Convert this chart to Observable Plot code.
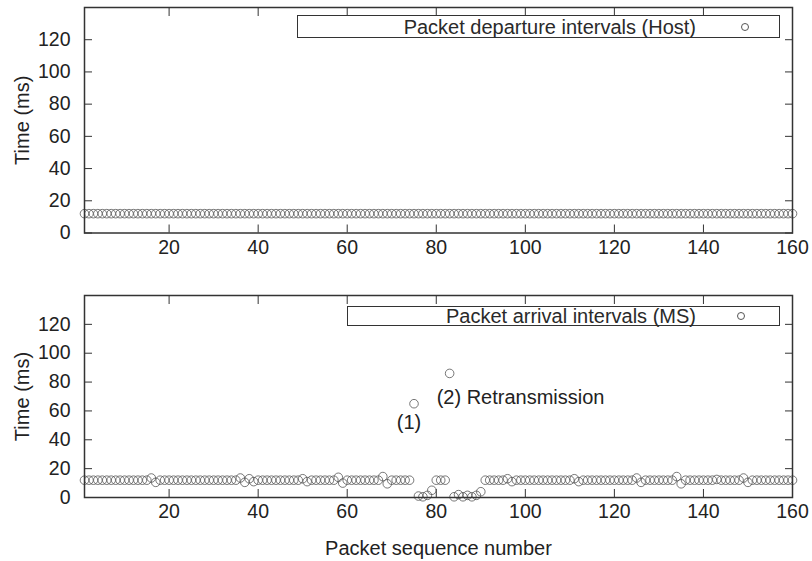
<!DOCTYPE html>
<html><head><meta charset="utf-8">
<script src="https://cdn.jsdelivr.net/npm/d3@7"></script>
<script src="https://cdn.jsdelivr.net/npm/@observablehq/plot@0.6"></script>
<style>
body{margin:0;background:#fff;font-family:"Liberation Sans",Arial,sans-serif;}
#wrap{position:relative;width:812px;height:561px;overflow:hidden;}
#wrap svg{display:block;}
.legend{position:absolute;border:1px solid #333;box-sizing:border-box;font-size:20px;color:#2a2a2a;background:#fff;}
.legend span{position:absolute;white-space:nowrap;}
.legend i{position:absolute;width:8px;height:8px;border:1px solid #555;border-radius:50%;box-sizing:border-box;}
</style></head><body><div id="wrap"></div>
<script>
// ---- data ----
const seqNumbers = [1,2,3,4,5,6,7,8,9,10,11,12,13,14,15,16,17,18,19,20,21,22,23,24,25,26,27,28,29,30,31,32,33,34,35,36,37,38,39,40,41,42,43,44,45,46,47,48,49,50,51,52,53,54,55,56,57,58,59,60,61,62,63,64,65,66,67,68,69,70,71,72,73,74,75,76,77,78,79,80,81,82,83,84,85,86,87,88,89,90,91,92,93,94,95,96,97,98,99,100,101,102,103,104,105,106,107,108,109,110,111,112,113,114,115,116,117,118,119,120,121,122,123,124,125,126,127,128,129,130,131,132,133,134,135,136,137,138,139,140,141,142,143,144,145,146,147,148,149,150,151,152,153,154,155,156,157,158,159,160];
const departureIntervals = [
12,12,12,12,12,12,12,12,12,12,12,12,12,12,12,12,12,12,12,12,
12,12,12,12,12,12,12,12,12,12,12,12,12,12,12,12,12,12,12,12,
12,12,12,12,12,12,12,12,12,12,12,12,12,12,12,12,12,12,12,12,
12,12,12,12,12,12,12,12,12,12,12,12,12,12,12,12,12,12,12,12,
12,12,12,12,12,12,12,12,12,12,12,12,12,12,12,12,12,12,12,12,
12,12,12,12,12,12,12,12,12,12,12,12,12,12,12,12,12,12,12,12,
12,12,12,12,12,12,12,12,12,12,12,12,12,12,12,12,12,12,12,12,
12,12,12,12,12,12,12,12,12,12,12,12,12,12,12,12,12,12,12,12];
const arrivalIntervals = [
12,12,12,12,12,12,12,12,12,12,12,12,12,12,12,13.5,10.5,12,12,12,
12,12,12,12,12,12,12,12,12,12,12,12,12,12,12,13.5,10.5,13,11,12,
12,12,12,12,12,12,12,12,12,13,11,12,12,12,12,12,12,14,10,12,
12,12,12,12,12,12,12,14.5,9.5,12,12,12,12,12,65,1,0.5,1.5,5,12,
12,12,86,0.5,2,0.5,1.5,0.5,1.5,4,12,12,12,12,12,13,11,12,12,12,
12,12,12,12,12,12,12,12,12,12,13,11,12,12,12,12,12,12,12,12,
12,12,12,12,13.5,10.5,12,12,12,12,12,12,12,14.5,9.5,12,12,12,12,12,
12,12,12.5,12,12,12,12,12,13.5,10.5,12,12,12,12,12,12,12,12,12,12];
const xTickValues = [20,40,60,80,100,120,140,160];
const yTickValues = [0,20,40,60,80,100,120];
const annotations = [
  {seq: 75, t: 65, label: "(1)"},
  {seq: 83, t: 86, label: "(2) Retransmission"}
];
const yLabel = "Time (ms)";
const xLabel = "Packet sequence number";
const legendTop = "Packet departure intervals (Host)";
const legendBottom = "Packet arrival intervals (MS)";

// ---- drawing ----
const font = "Liberation Sans, Arial, sans-serif";
function panel(values, opts) {
  const data = seqNumbers.map((s, i) => ({seq: s, t: values[i]}));
  const marks = [
    Plot.axisX(xTickValues, {anchor: "bottom", tickSize: -8, tickPadding: 15, label: null, stroke: "#333", fill: "#222", fontSize: 19.5}),
    Plot.axisX(xTickValues, {anchor: "top", tickSize: -8, tickFormat: () => "", label: null, stroke: "#333"}),
    Plot.axisY(yTickValues, {anchor: "left", tickSize: -8, tickPadding: 22, label: null, stroke: "#333", fill: "#222", fontSize: 19.5}),
    Plot.axisY(yTickValues, {anchor: "right", tickSize: -8, tickFormat: () => "", label: null, stroke: "#333"}),
    Plot.dot(data, {x: "seq", y: "t", r: 4.3, stroke: "#555", strokeWidth: 0.8, fill: "none"}),
    Plot.frame({stroke: "#333", strokeWidth: 1.5}),
    Plot.text([yLabel], {text: d => d, frameAnchor: "left", textAnchor: "middle", lineAnchor: "middle", dx: -62, rotate: -90, fontSize: 20, fill: "#222"})
  ];
  if (opts.annot) {
    marks.push(Plot.text(annotations.slice(0, 1), {x: "seq", y: "t", text: "label", dx: -5, dy: 19, fontSize: 20, fill: "#222"}));
    marks.push(Plot.text(annotations.slice(1), {x: "seq", y: "t", text: "label", dx: -13, dy: 24, textAnchor: "start", fontSize: 20, fill: "#222"}));
  }
  if (opts.xLabel) {
    marks.push(Plot.text([xLabel], {text: d => d, frameAnchor: "bottom", textAnchor: "middle", lineAnchor: "middle", dy: 51, fontSize: 20, fill: "#222"}));
  }
  return Plot.plot({
    width: 812, height: opts.height,
    marginLeft: 84, marginRight: 20, marginTop: opts.marginTop, marginBottom: opts.marginBottom,
    style: {fontFamily: font, fontSize: "19px", background: "#fff", color: "#222", overflow: "visible"},
    x: {domain: [1, 160]},
    y: {domain: [0, 140]},
    marks
  });
}

const wrap = document.getElementById("wrap");
wrap.appendChild(panel(departureIntervals, {height: 282, marginTop: 7, marginBottom: 49.5}));
wrap.appendChild(panel(arrivalIntervals, {height: 279, marginTop: 13, marginBottom: 64, annot: true, xLabel: true}));

function legend(text, left, top, width, height, textRight, circleX) {
  const d = document.createElement("div");
  d.className = "legend";
  Object.assign(d.style, {left: left + "px", top: top + "px", width: width + "px", height: height + "px"});
  const s = document.createElement("span");
  s.textContent = text;
  Object.assign(s.style, {right: (left + width - textRight) + "px", top: (height / 2 - 12) + "px", lineHeight: "22px"});
  const c = document.createElement("i");
  Object.assign(c.style, {left: (circleX - left - 4) + "px", top: (height / 2 - 5) + "px"});
  d.appendChild(s); d.appendChild(c);
  wrap.appendChild(d);
}
legend(legendTop, 297, 15, 483, 23, 697, 744);
legend(legendBottom, 347, 306, 433, 20, 697, 740);
</script>
</body></html>
